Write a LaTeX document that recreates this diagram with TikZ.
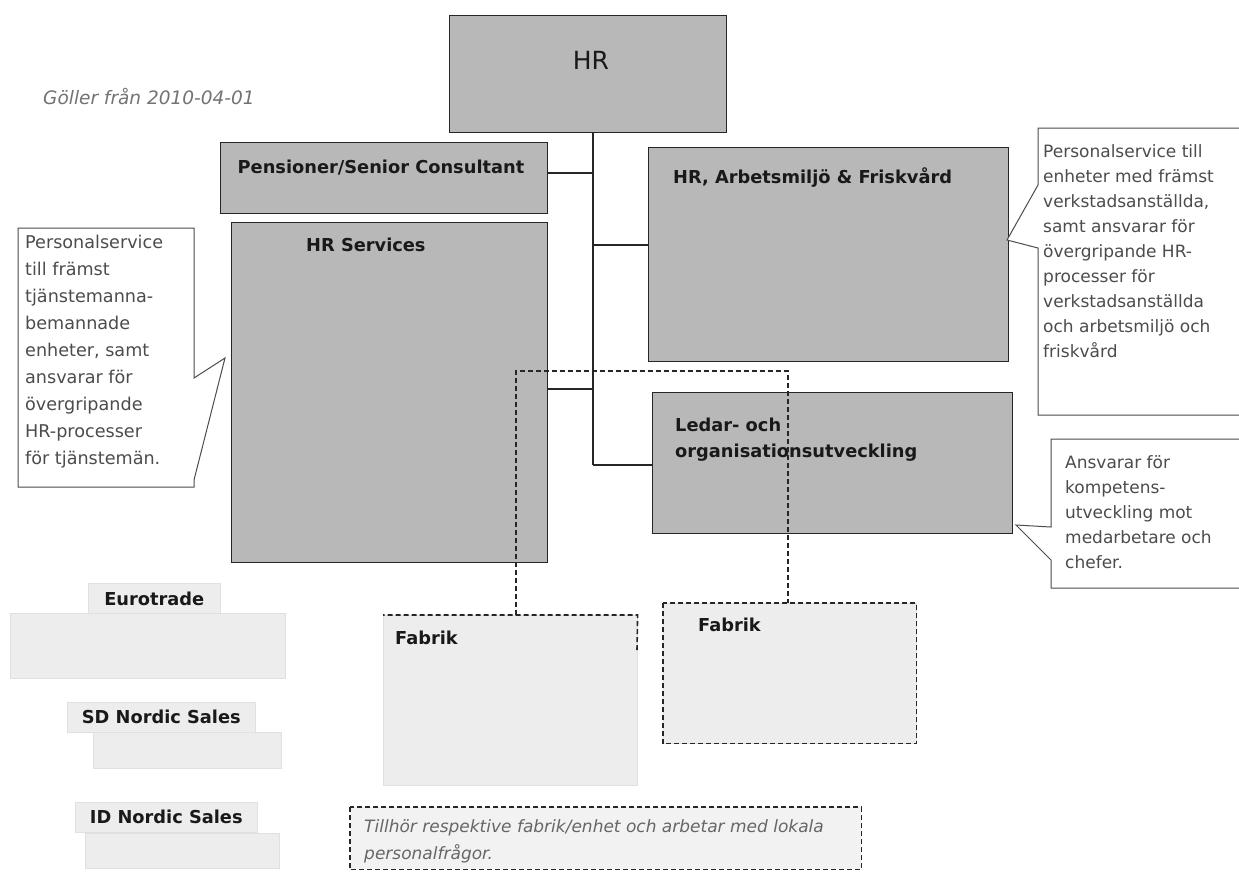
\documentclass[tikz,border=0pt]{standalone}
\usepackage{fontspec}
\setmainfont{DejaVu Sans}
\definecolor{boxgray}{gray}{0.72}
\definecolor{faintgray}{gray}{0.93}
\definecolor{notegray}{gray}{0.95}
\begin{document}
\begin{tikzpicture}[x=1pt,y=-1pt,
  unit/.style={draw=black!85, line width=1.4pt, fill=boxgray, inner sep=0pt, anchor=north west},
  faint/.style={fill=faintgray, draw=black!12, line width=0.6pt, inner sep=0pt, anchor=north west},
  title/.style={font=\bfseries\fontsize{17.8}{26}\selectfont, inner sep=0pt, text=black!90, align=left},
  ctext/.style={font=\fontsize{17}{25}\selectfont, inner sep=0pt, text=black!70, align=left, anchor=west},
  callout/.style={draw=black!70, line width=1pt, fill=white},
  link/.style={draw=black!85, line width=1.4pt},
  dlink/.style={draw=black!85, line width=1.6pt, dash pattern=on 5pt off 3pt}]
\useasboundingbox[fill=white] (0,0) rectangle (1239,873);

% date
\node[anchor=west, inner sep=0pt, font=\itshape\fontsize{18.5}{22}\selectfont, text=black!55] (date) at (43,97) {Göller från 2010-04-01};

% main units
\node[unit, minimum width=277pt, minimum height=117pt] (hr) at (449,15) {};
\node[inner sep=0pt, font=\fontsize{25}{30}\selectfont, text=black!90] (hrt) at (591,60) {HR};
\node[unit, minimum width=327pt, minimum height=71pt] (pens) at (220,142) {};
\node[title] (penst) at (381,168) {Pensioner/Senior Consultant};
\node[unit, minimum width=316pt, minimum height=340pt] (hrs) at (231,222) {};
\node[title, anchor=west] (hrst) at (306,245) {HR Services};
\node[unit, minimum width=360pt, minimum height=214pt] (arb) at (648,147) {};
\node[title, anchor=west] (arbt) at (673,178) {HR, Arbetsmiljö \& Friskvård};
\node[unit, minimum width=360pt, minimum height=141pt] (ledar) at (652,392) {};
\node[title, anchor=west] (ledart) at (675,440) {Ledar- och\\organisationsutveckling};

% trunk and branches
\coordinate (jp) at (593,173);
\coordinate (ja) at (593,245);
\coordinate (jh) at (593,389);
\coordinate (jl) at (593,465);
\draw[link] (hr.south -| jl) -- (jl);
\draw[link] (jp) -- (jp -| pens.east);
\draw[link] (ja) -- (ja -| arb.west);
\draw[link] (jh) -- (jh -| hrs.east);
\draw[link] (jl) -- (jl -| ledar.west);

% left callout
\draw[callout] (18,228) -- (194,228) -- (194,378) -- (225,358) -- (194,480) -- (194,487) -- (18,487) -- cycle;
\node[ctext, font=\fontsize{17.6}{27}\selectfont] (lnote) at (25,352) {Personalservice\\till främst\\tjänstemanna-\\bemannade\\enheter, samt\\ansvarar för\\övergripande\\HR-processer\\för tjänstemän.};

% right callout 1
\draw[callout] (1250,128) -- (1038,128) -- (1038,185) -- (1007,240) -- (1038,248) -- (1038,415) -- (1250,415);
\node[ctext] (rnote1) at (1043,251) {Personalservice till\\enheter med främst\\verkstadsanställda,\\samt ansvarar för\\övergripande HR-\\processer för\\verkstadsanställda\\och arbetsmiljö och\\friskvård};

% right callout 2
\draw[callout] (1250,439) -- (1051,439) -- (1051,527) -- (1016,525) -- (1051,560) -- (1051,588) -- (1250,588);
\node[ctext] (rnote2) at (1065,512) {Ansvarar för\\kompetens-\\utveckling mot\\medarbetare och\\chefer.};

% left sales units
\node[faint, minimum width=132pt, minimum height=31pt] (eurol) at (88,583) {};
\node[faint, minimum width=275pt, minimum height=65pt] (eurob) at (10,613) {};
\node[title] (eurot) at (eurol.center) {Eurotrade};
\node[faint, minimum width=188pt, minimum height=30pt] (sdl) at (67,702) {};
\node[faint, minimum width=188pt, minimum height=36pt] (sdb) at (93,732) {};
\node[title] (sdt) at (sdl.center) {SD Nordic Sales};
\node[faint, minimum width=182pt, minimum height=30pt] (idl) at (75,802) {};
\node[faint, minimum width=194pt, minimum height=35pt] (idb) at (85,833) {};
\node[title] (idt) at (idl.center) {ID Nordic Sales};

% factories
\node[faint, minimum width=254pt, minimum height=170pt] (fab1) at (383,615) {};
\coordinate (fab1r) at (637,650);
\draw[dlink] (fab1r) -- (fab1.north east) -- (fab1.north west);
\node[title, anchor=west] (fab1t) at (395,638) {Fabrik};
\node[faint, minimum width=253pt, minimum height=140pt] (fab2) at (663,603) {};
\draw[dlink] (fab2.north west) rectangle (fab2.south east);
\node[title, anchor=west] (fab2t) at (698,625) {Fabrik};

% dashed reporting line
\coordinate (dl) at (516,371);
\coordinate (dr) at (788,371);
\draw[dlink] (fab1.north -| dl) -- (dl) -- (dr) -- (fab2.north -| dr);

% bottom note
\node[faint, draw=none, fill=notegray, minimum width=511pt, minimum height=62pt] (note) at (350,807) {};
\draw[dlink, line width=1.3pt] (note.north west) rectangle (note.south east);
\node[inner sep=0pt, anchor=west, align=left, font=\itshape\fontsize{17}{27}\selectfont, text=black!60] (notet) at (364,841) {Tillhör respektive fabrik/enhet och arbetar med lokala\\personalfrågor.};
\end{tikzpicture}
\end{document}
